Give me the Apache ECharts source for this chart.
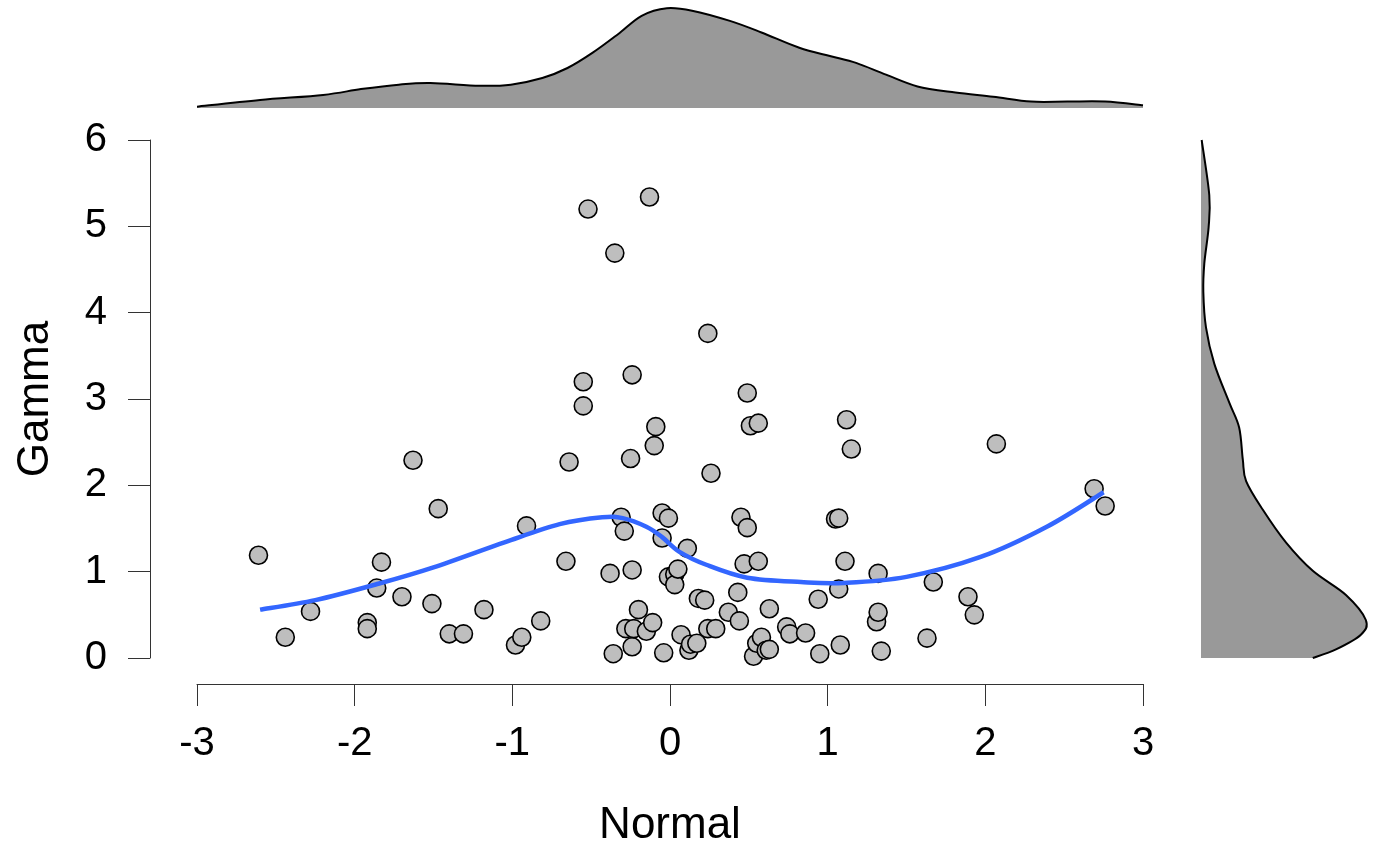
<!DOCTYPE html>
<html>
<head>
<meta charset="utf-8">
<title>Normal vs Gamma</title>
<script src="https://cdn.jsdelivr.net/npm/echarts@6/dist/echarts.min.js"></script>
<style>
  html, body { margin: 0; padding: 0; background: #fff; }
  #chart { width: 1400px; height: 866px; }
</style>
</head>
<body>
<div id="chart"></div>
<script>
// scatter points (Normal, Gamma)
const normalX = [
  -2.61, -2.44, -2.28, -1.92, -1.92, -1.86, -1.83, -1.70, -1.63, -1.51,
  -1.47, -1.40, -1.31, -1.18, -0.98, -0.94, -0.91, -0.82, -0.66, -0.64,
  -0.55, -0.55, -0.52, -0.38, -0.36, -0.35, -0.31, -0.29, -0.28, -0.25,
  -0.24, -0.24, -0.24, -0.23, -0.20, -0.15, -0.13, -0.11, -0.10, -0.09,
  -0.05, -0.05, -0.04, -0.01, -0.01, 0.03, 0.03, 0.05, 0.07, 0.11,
  0.12, 0.13, 0.17, 0.18, 0.22, 0.24, 0.24, 0.26, 0.29, 0.37,
  0.43, 0.44, 0.45, 0.47, 0.49, 0.49, 0.51, 0.53, 0.55, 0.56,
  0.56, 0.58, 0.61, 0.63, 0.63, 0.74, 0.76, 0.86, 0.94, 0.95,
  1.05, 1.07, 1.07, 1.08, 1.12, 1.11, 1.15, 1.31, 1.32, 1.32,
  1.34, 1.63, 1.67, 1.89, 1.93, 2.07, 2.69, 2.76
];
const gammaY = [
  1.19, 0.24, 0.54, 0.41, 0.34, 0.81, 1.11, 0.71, 2.29, 0.63,
  1.73, 0.28, 0.28, 0.56, 0.15, 0.24, 1.53, 0.43, 1.12, 2.27,
  2.92, 3.20, 5.20, 0.98, 0.05, 4.69, 1.63, 1.47, 0.34, 2.31,
  3.28, 1.02, 0.13, 0.34, 0.56, 0.31, 5.34, 0.41, 2.46, 2.68,
  1.68, 1.39, 0.06, 1.62, 0.94, 0.97, 0.85, 1.03, 0.27, 1.27,
  0.09, 0.16, 0.17, 0.69, 0.67, 3.76, 0.34, 2.14, 0.34, 0.53,
  0.76, 0.43, 1.63, 1.09, 1.51, 3.07, 2.69, 0.02, 0.17, 1.12,
  2.72, 0.24, 0.09, 0.10, 0.57, 0.36, 0.28, 0.29, 0.68, 0.05,
  1.61, 1.62, 0.80, 0.15, 2.76, 1.12, 2.42, 0.42, 0.53, 0.98,
  0.08, 0.23, 0.88, 0.71, 0.50, 2.48, 1.96, 1.76
];

// loess smoother
const loessX = [-2.6, -2.25, -1.85, -1.5, -1.05, -0.7, -0.43, -0.3, -0.15, -0.05, 0.06, 0.23, 0.49, 0.83, 1.1, 1.5, 1.97, 2.39, 2.75];
const loessY = [0.56, 0.67, 0.86, 1.05, 1.34, 1.55, 1.63, 1.62, 1.52, 1.40, 1.23, 1.08, 0.93, 0.88, 0.87, 0.94, 1.17, 1.52, 1.92];

// marginal density of Normal (top)
const topX = [-3.00, -2.60, -2.20, -1.96, -1.72, -1.52, -1.21, -1.01, -0.81, -0.65, -0.49, -0.33, -0.18, -0.02,
  0.14, 0.38, 0.58, 0.82, 1.02, 1.18, 1.37, 1.57, 1.81, 2.05, 2.29, 2.52, 2.76, 3.00];
const topD = [0.006, 0.036, 0.059, 0.085, 0.105, 0.112, 0.100, 0.105, 0.135, 0.180, 0.249, 0.332, 0.415, 0.449,
  0.438, 0.392, 0.340, 0.271, 0.233, 0.203, 0.150, 0.097, 0.070, 0.051, 0.029, 0.029, 0.029, 0.012];

// marginal density of Gamma (right)
const rightY = [6.00, 5.36, 4.99, 4.57, 4.24, 3.83, 3.41, 2.96, 2.67, 2.30, 2.05, 1.72, 1.34, 1.01, 0.73, 0.44, 0.27, 0.10, 0.00];
const rightD = [0.002, 0.025, 0.023, 0.010, 0.007, 0.015, 0.040, 0.085, 0.115, 0.126, 0.136, 0.186, 0.256, 0.337, 0.437, 0.497, 0.482, 0.407, 0.337];

const FONT = 'Liberation Sans, Arial, Helvetica, sans-serif';

// catmull-rom through pixel points -> svg path
function curvePath(pts) {
  let d = 'M' + pts[0][0] + ',' + pts[0][1];
  for (let i = 0; i < pts.length - 1; i++) {
    const p0 = pts[i - 1] || pts[i];
    const p1 = pts[i];
    const p2 = pts[i + 1];
    const p3 = pts[i + 2] || p2;
    const c1 = [p1[0] + (p2[0] - p0[0]) / 6, p1[1] + (p2[1] - p0[1]) / 6];
    const c2 = [p2[0] - (p3[0] - p1[0]) / 6, p2[1] - (p3[1] - p1[1]) / 6];
    d += ' C' + c1[0] + ',' + c1[1] + ' ' + c2[0] + ',' + c2[1] + ' ' + p2[0] + ',' + p2[1];
  }
  return d;
}

function densityRender(data, base) {
  return (params, api) => {
    if (params.dataIndex !== 0) return null;
    const pts = data.map((p) => api.coord(p));
    const line = curvePath(pts);
    const b0 = api.coord(base[0]);
    const b1 = api.coord(base[1]);
    const fill = line + ' L' + b1[0] + ',' + b1[1] + ' L' + b0[0] + ',' + b0[1] + ' Z';
    return {
      type: 'group',
      children: [
        { type: 'path', shape: { pathData: fill }, style: { fill: '#999999', stroke: null } },
        { type: 'path', shape: { pathData: line }, style: { fill: null, stroke: '#000', lineWidth: 2 } }
      ]
    };
  };
}

function smoothRender(data) {
  return (params, api) => {
    if (params.dataIndex !== 0) return null;
    const pts = data.map((p) => api.coord(p));
    return {
      type: 'path',
      shape: { pathData: curvePath(pts) },
      style: { fill: null, stroke: '#3366FF', lineWidth: 4.5 }
    };
  };
}

const topData = topX.map((x, i) => [x, topD[i]]);
const rightData = rightY.map((y, i) => [rightD[i], y]);
const loessData = loessX.map((x, i) => [x, loessY[i]]);

const chart = echarts.init(document.getElementById('chart'));
chart.setOption({
  animation: false,
  backgroundColor: '#fff',
  grid: [
    { left: 197, right: 257, top: 140, bottom: 208 },
    { left: 197, right: 257, top: 8, bottom: 758 },
    { left: 1201, right: 0, top: 140, bottom: 208 }
  ],
  xAxis: [
    {
      gridIndex: 0,
      type: 'value',
      min: -3,
      max: 3,
      interval: 1,
      offset: 26,
      name: 'Normal',
      nameLocation: 'middle',
      nameGap: 120,
      nameTextStyle: { fontFamily: FONT, fontSize: 44, color: '#000' },
      axisLine: { show: true, onZero: false, lineStyle: { color: '#333', width: 1 } },
      axisTick: { show: true, length: 22, lineStyle: { color: '#333', width: 1 } },
      axisLabel: { fontFamily: FONT, fontSize: 40, color: '#000', margin: 40 },
      splitLine: { show: false }
    },
    { gridIndex: 1, type: 'value', min: -3, max: 3, show: false },
    { gridIndex: 2, type: 'value', min: 0, max: 0.6, show: false }
  ],
  yAxis: [
    {
      gridIndex: 0,
      type: 'value',
      min: 0,
      max: 6,
      interval: 1,
      offset: 47,
      name: 'Gamma',
      nameLocation: 'middle',
      nameGap: 92,
      nameTextStyle: { fontFamily: FONT, fontSize: 44, color: '#000' },
      axisLine: { show: true, onZero: false, lineStyle: { color: '#333', width: 1 } },
      axisTick: { show: true, length: 22, lineStyle: { color: '#333', width: 1 } },
      axisLabel: { fontFamily: FONT, fontSize: 40, color: '#000', margin: 43 },
      splitLine: { show: false }
    },
    { gridIndex: 1, type: 'value', min: 0, max: 0.45, show: false },
    { gridIndex: 2, type: 'value', min: 0, max: 6, show: false }
  ],
  series: [
    {
      type: 'scatter',
      xAxisIndex: 0,
      yAxisIndex: 0,
      data: normalX.map((x, i) => [x, gammaY[i]]),
      symbol: 'circle',
      symbolSize: 18,
      itemStyle: { color: '#BEBEBE', borderColor: '#000', borderWidth: 1.6, opacity: 1 },
      z: 2
    },
    {
      type: 'custom',
      xAxisIndex: 0,
      yAxisIndex: 0,
      data: loessData,
      clip: false,
      renderItem: smoothRender(loessData),
      z: 3
    },
    {
      type: 'custom',
      xAxisIndex: 1,
      yAxisIndex: 1,
      data: topData,
      clip: false,
      renderItem: densityRender(topData, [[-3, 0], [3, 0]])
    },
    {
      type: 'custom',
      xAxisIndex: 2,
      yAxisIndex: 2,
      data: rightData,
      clip: false,
      renderItem: densityRender(rightData, [[0, 6], [0, 0]])
    }
  ]
});
</script>
</body>
</html>
